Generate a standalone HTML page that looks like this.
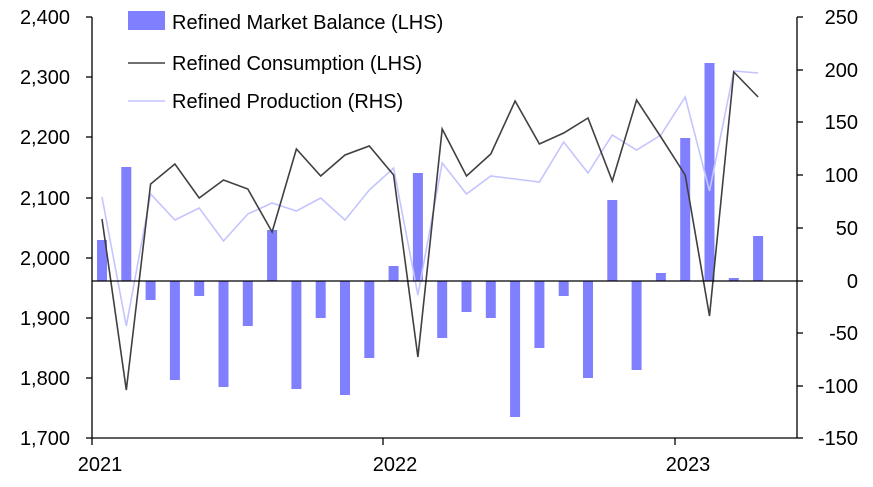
<!DOCTYPE html>
<html><head><meta charset="utf-8"><style>
body{margin:0;background:#fff;}
svg text{font-family:"Liberation Sans",Arial,sans-serif;font-size:20px;fill:#000;}
</style></head><body>
<svg width="873" height="482" xmlns="http://www.w3.org/2000/svg">
<g id="bars" fill="#8080ff"></g>
<polyline id="prod" fill="none" stroke="#c4c4ff" stroke-width="1.6"/>
<polyline id="cons" fill="none" stroke="#404040" stroke-width="1.6"/>
<line x1="92" y1="281" x2="797" y2="281" stroke="#000" stroke-width="1.3"/>
<line x1="92" y1="17" x2="92" y2="438" stroke="#000" stroke-width="1.3"/>
<line x1="797" y1="17" x2="797" y2="438" stroke="#000" stroke-width="1.3"/>
<line x1="92" y1="438" x2="797" y2="438" stroke="#000" stroke-width="1.3"/>
<g stroke="#000" stroke-width="1.3">
<line x1="86" y1="17" x2="92" y2="17"/><line x1="86" y1="77" x2="92" y2="77"/><line x1="86" y1="137" x2="92" y2="137"/><line x1="86" y1="198" x2="92" y2="198"/><line x1="86" y1="258" x2="92" y2="258"/><line x1="86" y1="318" x2="92" y2="318"/><line x1="86" y1="378" x2="92" y2="378"/><line x1="86" y1="438" x2="92" y2="438"/>
<line x1="797" y1="17" x2="803" y2="17"/><line x1="797" y1="70" x2="803" y2="70"/><line x1="797" y1="122" x2="803" y2="122"/><line x1="797" y1="175" x2="803" y2="175"/><line x1="797" y1="228" x2="803" y2="228"/><line x1="797" y1="281" x2="803" y2="281"/><line x1="797" y1="333" x2="803" y2="333"/><line x1="797" y1="386" x2="803" y2="386"/><line x1="797" y1="438" x2="803" y2="438"/>
<line x1="92" y1="438" x2="92" y2="445"/><line x1="383" y1="438" x2="383" y2="445"/><line x1="675" y1="438" x2="675" y2="445"/>
</g>
<g text-anchor="end">
<text x="70" y="24">2,400</text><text x="70" y="84">2,300</text><text x="70" y="144">2,200</text><text x="70" y="205">2,100</text><text x="70" y="265">2,000</text><text x="70" y="325">1,900</text><text x="70" y="385">1,800</text><text x="70" y="445">1,700</text>
</g>
<g text-anchor="end">
<text x="858" y="24">250</text><text x="858" y="77">200</text><text x="858" y="129">150</text><text x="858" y="182">100</text><text x="858" y="235">50</text><text x="858" y="288">0</text><text x="858" y="340">-50</text><text x="858" y="393">-100</text><text x="858" y="445">-150</text>
</g>
<text x="100" y="471" text-anchor="middle">2021</text>
<text x="395" y="471" text-anchor="middle">2022</text>
<text x="688" y="471" text-anchor="middle">2023</text>
<rect x="128" y="11" width="37" height="19" fill="#8080ff"/>
<text x="172" y="29">Refined Market Balance (LHS)</text>
<line x1="128" y1="63" x2="165" y2="63" stroke="#404040" stroke-width="1.6"/>
<text x="172" y="70">Refined Consumption (LHS)</text>
<line x1="128" y1="101" x2="165" y2="101" stroke="#c4c4ff" stroke-width="1.6"/>
<text x="172" y="108">Refined Production (RHS)</text>
</svg>
<script>
var b=[240,167,300,380,296,387,326,230,389,318,395,358,266,173,338,312,318,417,348,296,378,200,370,273,138,63,278,236];
var c=[219,390,184,164,198,180,189,232,149,176,155,146,175,357,129,176,154,101,144,133,118,181,100,137,175,316,72,97];
var p=[197,326,194,220,208,241,214,203,211,198,220,190,168,295,163,194,176,179,182,142,173,135,150,135,97,191,71,73];
var ns="http://www.w3.org/2000/svg",g=document.getElementById("bars");
function x(i){return 102+24.3*i;}
b.forEach(function(v,i){var r=document.createElementNS(ns,"rect");r.setAttribute("x",x(i)-5);r.setAttribute("width",10);r.setAttribute("y",Math.min(v,281));r.setAttribute("height",Math.abs(v-281));g.appendChild(r);});
document.getElementById("cons").setAttribute("points",c.map(function(v,i){return x(i)+","+v}).join(" "));
document.getElementById("prod").setAttribute("points",p.map(function(v,i){return x(i)+","+v}).join(" "));
</script>
</body></html>
